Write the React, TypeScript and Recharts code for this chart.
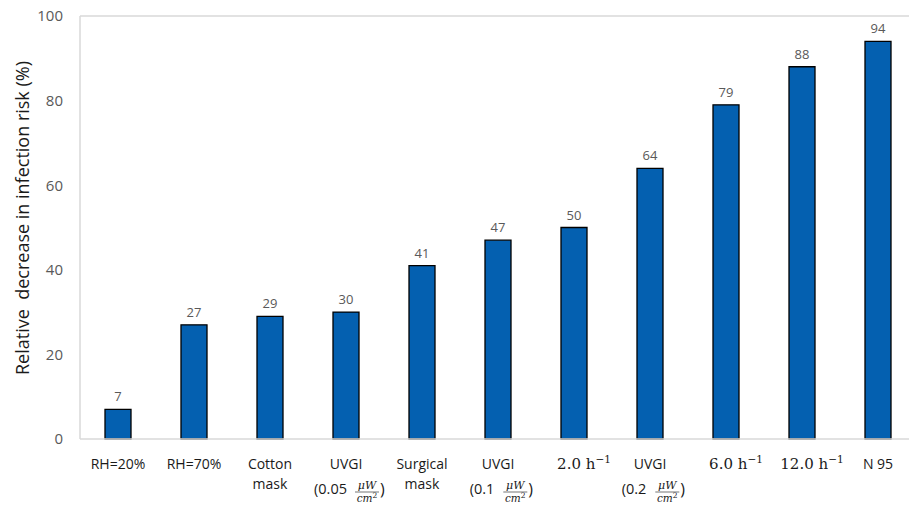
import { Bar, BarChart, LabelList, ReferenceLine, XAxis, YAxis } from "recharts";

const categories = [
  "RH=20%",
  "RH=70%",
  "Cotton mask",
  "UVGI 0.05",
  "Surgical mask",
  "UVGI 0.1",
  "2.0 h^-1",
  "UVGI 0.2",
  "6.0 h^-1",
  "12.0 h^-1",
  "N 95",
];
const reductions = [7, 27, 29, 30, 41, 47, 50, 64, 79, 88, 94];
const yTicks = [0, 20, 40, 60, 80, 100];

const data = categories.map((name, i) => ({ name, value: reductions[i] }));

const FONT = "'Open Sans', sans-serif";
const MATH = "'DejaVu Serif', serif";
const INK = "#1a1a1a";
const GRID = "#d9d9d9";

// rough text widths for the "(0.05" part of the UVGI labels
const leftWidth = (s: string) => s.length * 7.4;

function CategoryTick(props: any) {
  const { x, y, payload } = props;
  const v: string = payload.value;
  const l1 = y + 22;
  const l2 = y + 42;

  if (v.startsWith("UVGI ")) {
    const dose = v.slice(5);
    const lead = `(${dose}`;
    const lw = leftWidth(lead);
    const total = lw + 3 + 26 + 6;
    const start = x + 4 - total / 2;
    const fx = start + lw + 3 + 13;
    const base = y + 47;
    return (
      <g>
        <text x={x} y={l1} textAnchor="middle" fontFamily={FONT} fontSize={14} fill={INK}>UVGI</text>
        <text x={start} y={base} textAnchor="start" fontFamily={FONT} fontSize={14.5} fill={INK}>{lead}</text>
        <text x={fx} y={base - 5} textAnchor="middle" fontFamily={MATH} fontStyle="italic" fontSize={11} fill={INK}>μW</text>
        <line x1={fx - 12} x2={fx + 12} y1={base - 2} y2={base - 2} stroke={INK} strokeWidth={0.6} />
        <text x={fx} y={base + 7.5} textAnchor="middle" fontFamily={MATH} fontStyle="italic" fontSize={10.5} fill={INK}>
          cm<tspan dy={-4} fontSize={7.5} fontStyle="normal">2</tspan>
        </text>
        <text x={fx + 13} y={base + 1} textAnchor="start" fontFamily={FONT} fontSize={16} fill={INK}>)</text>
      </g>
    );
  }

  if (v.endsWith(" h^-1")) {
    const rate = v.slice(0, -5);
    return (
      <text x={x + 10} y={l1} textAnchor="middle" fontFamily={MATH} fontSize={15} fill={INK}>
        {rate} h<tspan dy={-6} fontSize={10.5}>−1</tspan>
      </text>
    );
  }

  const lines = v.includes(" mask") ? v.split(" ") : [v];
  return (
    <g>
      {lines.map((t, i) => (
        <text key={t} x={x} y={i === 0 ? l1 : l2} textAnchor="middle" fontFamily={FONT} fontSize={14} fill={INK}>
          {t}
        </text>
      ))}
    </g>
  );
}

export default function App() {
  return (
    <div style={{ position: "absolute", left: 0, top: 0, width: 909, height: 506, overflow: "hidden", background: "#fff" }}>
      <BarChart width={930} height={506} data={data} margin={{ top: 16, right: 14, left: 0, bottom: 0 }}>
        <XAxis
          dataKey="name"
          interval={0}
          height={67}
          axisLine={{ stroke: GRID, strokeWidth: 1.5 }}
          tickLine={false}
          tick={<CategoryTick />}
        />
        <YAxis
          width={80}
          domain={[0, 100]}
          ticks={yTicks}
          axisLine={{ stroke: GRID, strokeWidth: 1.5 }}
          tickLine={false}
          tickMargin={11}
          tick={{ fill: "#595959", fontSize: 15, fontFamily: FONT }}
          label={{
            content: () => (
              <text
                x={22}
                y={218}
                transform="rotate(-90 22 218)"
                textAnchor="middle"
                dominantBaseline="central"
                fontFamily={FONT}
                fontSize={18}
                fill={INK}
                style={{ whiteSpace: "pre" }}
              >
                Relative  decrease in infection risk (%)
              </text>
            ),
          }}
        />
        <ReferenceLine y={100} stroke={GRID} strokeWidth={1.5} />
        <Bar dataKey="value" barSize={26} fill="#0460B0" stroke="#000" strokeWidth={1.3} isAnimationActive={false}>
          <LabelList dataKey="value" position="top" offset={8} fill="#595959" fontSize={13} fontFamily={FONT} />
        </Bar>
      </BarChart>
    </div>
  );
}
